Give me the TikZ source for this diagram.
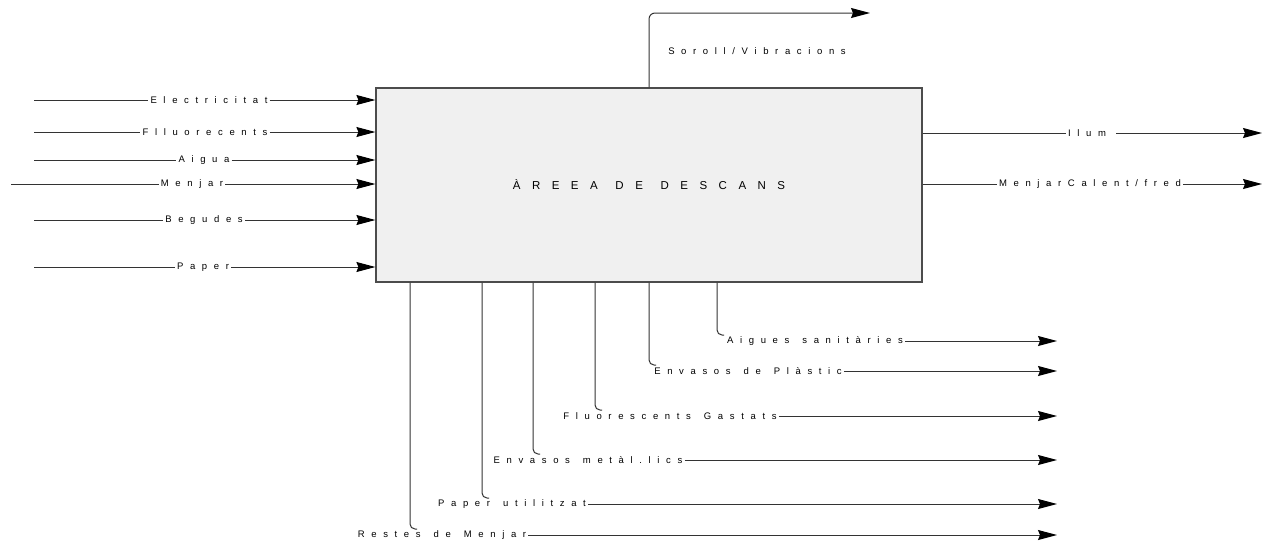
\documentclass[tikz,border=0pt]{standalone}
\usepackage{fontspec}
\setmainfont{Liberation Sans}
\newfontfamily\lblfont[LetterSpace=70,WordSpace=1.4]{Liberation Sans}
\newfontfamily\titlefont[LetterSpace=100,WordSpace=1.2]{Liberation Sans}
\usetikzlibrary{arrows.meta}

\tikzset{
  wire/.style={draw=black!80, line width=1pt},
  flow/.style={wire, -{Stealth[length=19pt,width=10pt,inset=2pt,black]}},
  lbl/.style={font=\lblfont\fontsize{9.5}{10}\selectfont, inner sep=2pt},
  area/.style={draw=black!70, line width=1.2pt, fill=black!6,
    minimum width=546pt, minimum height=194pt}
}

\begin{document}
\begin{tikzpicture}[x=1pt,y=-1pt]
\useasboundingbox (0,0) rectangle (1265,542);

\node[area] (box) at (649,185) {};
\node[font=\titlefont\fontsize{11.5}{12}\selectfont] (title) at (box.center) {ÀREEA DE DESCANS};

% entrades
\coordinate (in1) at (34,100);
\node[lbl] (electricitat) at (209,100) {Electricitat};
\draw[wire] (in1) -- (electricitat.west);
\draw[flow] (electricitat.east) -- (box.west |- electricitat);

\coordinate (in2) at (34,132);
\node[lbl] (fluorecents) at (205,132) {Flluorecents};
\draw[wire] (in2) -- (fluorecents.west);
\draw[flow] (fluorecents.east) -- (box.west |- fluorecents);

\coordinate (in3) at (34,160);
\node[lbl] (aigua) at (204,160) {Aigua};
\draw[wire] (in3) -- (aigua.west);
\draw[flow] (aigua.east) -- (box.west |- aigua);

\coordinate (in4) at (11,184);
\node[lbl] (menjar) at (192,184) {Menjar};
\draw[wire] (in4) -- (menjar.west);
\draw[flow] (menjar.east) -- (box.west |- menjar);

\coordinate (in5) at (34,220);
\node[lbl] (begudes) at (204,220) {Begudes};
\draw[wire] (in5) -- (begudes.west);
\draw[flow] (begudes.east) -- (box.west |- begudes);

\coordinate (in6) at (34,267);
\node[lbl] (paper) at (203,267) {Paper};
\draw[wire] (in6) -- (paper.west);
\draw[flow] (paper.east) -- (box.west |- paper);

% sortides
\coordinate (soroll) at (870,13);
\draw[flow, rounded corners=6pt] (box.north) |- (soroll);
\node[lbl] (vibracions) at (757,51) {Soroll/Vibracions};

\coordinate (out1) at (1262,133);
\node[lbl] (ilum) at (1087,133) {Ilum};
\draw[wire] (box.east |- ilum) -- (ilum.west);
\draw[flow] (ilum.east) ++(8,0) -- (out1);

\coordinate (out2) at (1262,184);
\node[lbl] (calent) at (1090,184) {MenjarCalent/fred};
\draw[wire] (box.east |- calent) -- (calent.west);
\draw[flow] (calent.east) -- (out2);

% residus
\coordinate (r1) at (1057,341);
\node[lbl] (aigues) at (815,341) {Aigues sanitàries};
\draw[wire, rounded corners=5pt] (box.south -| 717,0) |- (724,335);
\draw[flow] (aigues.east) -- (r1);

\coordinate (r2) at (1057,371);
\node[lbl] (plastic) at (748,371) {Envasos de Plàstic};
\draw[wire, rounded corners=5pt] (box.south -| 649,0) |- (656,365);
\draw[flow] (plastic.east) -- (r2);

\coordinate (r3) at (1057,416);
\node[lbl] (gastats) at (670,416) {Fluorescents Gastats};
\draw[wire, rounded corners=5pt] (box.south -| 595,0) |- (602,410);
\draw[flow] (gastats.east) -- (r3);

\coordinate (r4) at (1057,460);
\node[lbl] (metallics) at (588,460) {Envasos metàl.lics};
\draw[wire, rounded corners=5pt] (box.south -| 533,0) |- (540,454);
\draw[flow] (metallics.east) -- (r4);

\coordinate (r5) at (1057,504);
\node[lbl] (utilitzat) at (512,504) {Paper utilitzat};
\draw[wire, rounded corners=5pt] (box.south -| 482,0) |- (489,498);
\draw[flow] (utilitzat.east) -- (r5);

\coordinate (r6) at (1057,535);
\node[lbl] (restes) at (442,535) {Restes de Menjar};
\draw[wire, rounded corners=5pt] (box.south -| 410,0) |- (417,529);
\draw[flow] (restes.east) -- (r6);
\end{tikzpicture}
\end{document}
